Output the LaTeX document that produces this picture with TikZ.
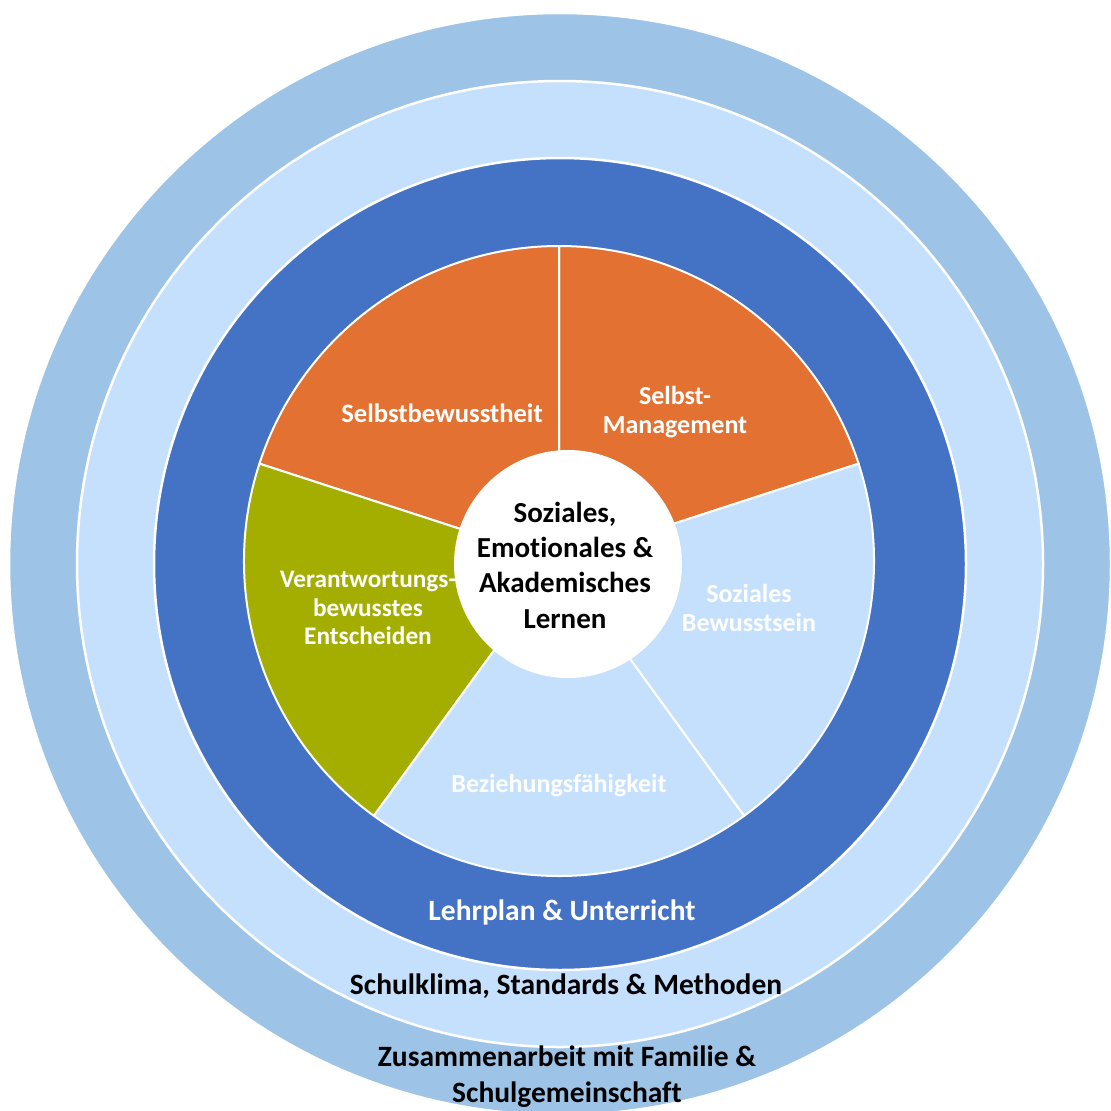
\documentclass[tikz,border=0pt]{standalone}
\usepackage{fontspec}
\setmainfont{Carlito}[Ligatures=NoCommon]
\definecolor{ringouter}{HTML}{9DC3E6}
\definecolor{ringlight}{HTML}{C5E0FC}
\definecolor{ringdark}{HTML}{4472C4}
\definecolor{segorange}{HTML}{E37232}
\definecolor{seggreen}{HTML}{A3AE00}
\begin{document}
\begin{tikzpicture}[x=1pt,y=1pt,
  ring/.style={draw=white, line width=2.5pt},
  segment/.style={draw=white, line width=2pt, line join=round},
  seglabel/.style={text=white, font=\fontsize{26}{28.5}\selectfont\bfseries, align=center, inner sep=0pt},
  ringlabel/.style={font=\fontsize{29.5}{36}\selectfont\bfseries, align=center, inner sep=0pt},
  corelabel/.style={font=\fontsize{29}{35.3}\selectfont\bfseries, align=center, inner sep=0pt}]
\useasboundingbox (0,0) rectangle (1111,-1111);
\clip (0,0) rectangle (1111,-1111);

% concentric rings
\fill[ringouter, ring] (560,-564) circle[radius=551pt];
\fill[ringlight, ring] (560,-564) circle[radius=483pt];
\fill[ringdark, ring] (560,-564) circle[radius=406pt];

% five competence sectors
\begin{scope}[shift={(559,-561)}]
  \filldraw[fill=segorange, segment] (0,0) -- (18:315pt) arc[start angle=18, end angle=90, radius=315pt] -- cycle;
  \filldraw[fill=segorange, segment] (0,0) -- (90:315pt) arc[start angle=90, end angle=162, radius=315pt] -- cycle;
  \filldraw[fill=seggreen, segment] (0,0) -- (162:315pt) arc[start angle=162, end angle=234, radius=315pt] -- cycle;
  \filldraw[fill=ringlight, segment] (0,0) -- (234:315pt) arc[start angle=234, end angle=306, radius=315pt] -- cycle;
  \filldraw[fill=ringlight, segment] (0,0) -- (306:315pt) arc[start angle=306, end angle=378, radius=315pt] -- cycle;
\end{scope}

% core
\fill[white] (568,-564) circle[radius=114pt];

\node[corelabel] (core) at (565,-565) {Soziales,\\Emotionales \&\\Akademisches\\Lernen};

\node[seglabel, font=\fontsize{26.6}{28.5}\selectfont\bfseries] (selfaware) at (442,-413) {Selbstbewusstheit};
\node[seglabel] (selfmgmt) at (675,-412) {Selbst-\\Management};
\node[seglabel] (social) at (749,-608) {Soziales\\Bewusstsein};
\node[seglabel] (relation) at (559,-786) {Beziehungsfähigkeit};
\node[seglabel, font=\fontsize{25.3}{28.5}\selectfont\bfseries] (decision) at (368,-608) {Verantwortungs-\\bewusstes\\Entscheiden};

\node[ringlabel, text=white] (curriculum) at (562,-912) {Lehrplan \& Unterricht};
\node[ringlabel] (climate) at (566,-986) {Schulklima, Standards \& Methoden};
\node[ringlabel] (family) at (567,-1077) {Zusammenarbeit mit Familie \&\\Schulgemeinschaft};
\end{tikzpicture}
\end{document}
